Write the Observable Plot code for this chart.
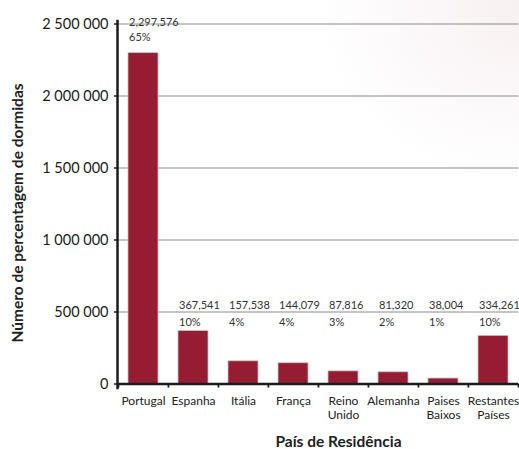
<!DOCTYPE html>
<html>
<head>
<meta charset="utf-8">
<script src="https://cdn.jsdelivr.net/npm/d3@7"></script>
<script src="https://cdn.jsdelivr.net/npm/@observablehq/plot@0.6"></script>
<style>
  html, body { margin: 0; padding: 0; }
  body {
    width: 519px; height: 449px; overflow: hidden;
    background: radial-gradient(ellipse 200px 170px at 100% 2%, rgba(240, 222, 225, 0.45), rgba(255,255,255,0) 100%), #ffffff;
    font-family: Lato, "Open Sans", sans-serif;
  }
</style>
</head>
<body>
<div id="chart"></div>
<script>
// ---- data ----
const categorias = ["Portugal", "Espanha", "Itália", "França", "Reino Unido", "Alemanha", "Paises Baixos", "Restantes Países"];
const valores = [2297576, 367541, 157538, 144079, 87816, 81320, 38004, 334261];
const percentagens = [65, 10, 4, 4, 3, 2, 1, 10];
const yTicks = [0, 500000, 1000000, 1500000, 2000000, 2500000];
const tituloY = "Número de percentagem de dormidas";
const tituloX = "País de Residência";

const data = categorias.map((pais, i) => ({pais, valor: valores[i], pct: percentagens[i]}));

// ---- layout ----
const W = 519, H = 449, ML = 117, MR = 1, MT = 23.5, MB = 65.5;
const half = (W - ML - MR) / categorias.length / 2;
const ink = "#1b1b1b";
const barColor = "#951c32";

const fmtV = d3.format(",");
const fmtY = d => d3.format(",")(d).replace(/,/g, " ");
const topo = yTicks[yTicks.length - 1];
const base = yTicks[1];
const isBig = d => d.valor > yTicks[2];

const plot = Plot.plot({
  width: W, height: H,
  marginLeft: ML, marginRight: MR, marginTop: MT, marginBottom: MB,
  style: {fontFamily: "Lato, 'Open Sans', sans-serif", background: "transparent", color: ink},
  x: {domain: categorias, paddingInner: 0.41, paddingOuter: 0.205, label: null},
  y: {domain: [0, topo], label: null},
  marks: [
    Plot.gridY(yTicks.slice(1), {stroke: "#8c8c8c", strokeOpacity: 1, strokeWidth: 1}),
    Plot.barY(data, {x: "pais", y: "valor", fill: barColor, stroke: "#c4c4c4", strokeWidth: 0.8}),
    Plot.ruleY([0], {stroke: ink, strokeWidth: 2.5}),
    Plot.frame({anchor: "left", stroke: ink, strokeWidth: 2.5, insetTop: -3, insetBottom: -4}),
    Plot.axisY(yTicks, {tickSize: 3, tickPadding: 6, tickFormat: fmtY, fontSize: 14.5, label: null, stroke: ink, strokeWidth: 1.5}),
    Plot.axisX({tickSize: 0, tickPadding: 12, tickFormat: d => d.replace(" ", "\n"), fontSize: 12, lineHeight: 1.1, label: null, fill: "#222"}),
    Plot.ruleX(categorias, {x: d => d, dx: -half, insetTop: H - MT - MB, insetBottom: -4, stroke: ink, strokeWidth: 1.8}),
    Plot.ruleX(categorias.slice(-1), {x: d => d, dx: half, insetTop: H - MT - MB, insetBottom: -4, stroke: ink, strokeWidth: 1.8}),
    // value / percentage labels
    Plot.text(data.filter(isBig), {x: "pais", y: () => topo, text: d => fmtV(d.valor), textAnchor: "start", dx: -14.5, dy: -2, fontSize: 11, fill: "#333"}),
    Plot.text(data.filter(isBig), {x: "pais", y: () => topo, text: d => d.pct + "%", textAnchor: "start", dx: -14.5, dy: 13.2, fontSize: 11, fill: "#333"}),
    Plot.text(data.filter(d => !isBig(d)), {x: "pais", y: () => base, text: d => fmtV(d.valor), textAnchor: "start", dx: -14.5, dy: -6.7, fontSize: 11, fill: "#333"}),
    Plot.text(data.filter(d => !isBig(d)), {x: "pais", y: () => base, text: d => d.pct + "%", textAnchor: "start", dx: -14.5, dy: 10, fontSize: 11, fill: "#333"}),
    // axis titles
    Plot.text([tituloY], {text: d => d, frameAnchor: "left", textAnchor: "middle", lineAnchor: "middle", dx: -99, dy: 9, rotate: -90, fontSize: 15.5, fontWeight: "bold", fill: "#222"}),
    Plot.text([tituloX], {text: d => d, frameAnchor: "bottom", textAnchor: "middle", lineAnchor: "middle", dx: 20.5, dy: 58, fontSize: 15.5, fontWeight: "bold", fill: "#222"})
  ]
});
document.getElementById("chart").appendChild(plot);
</script>
</body>
</html>
